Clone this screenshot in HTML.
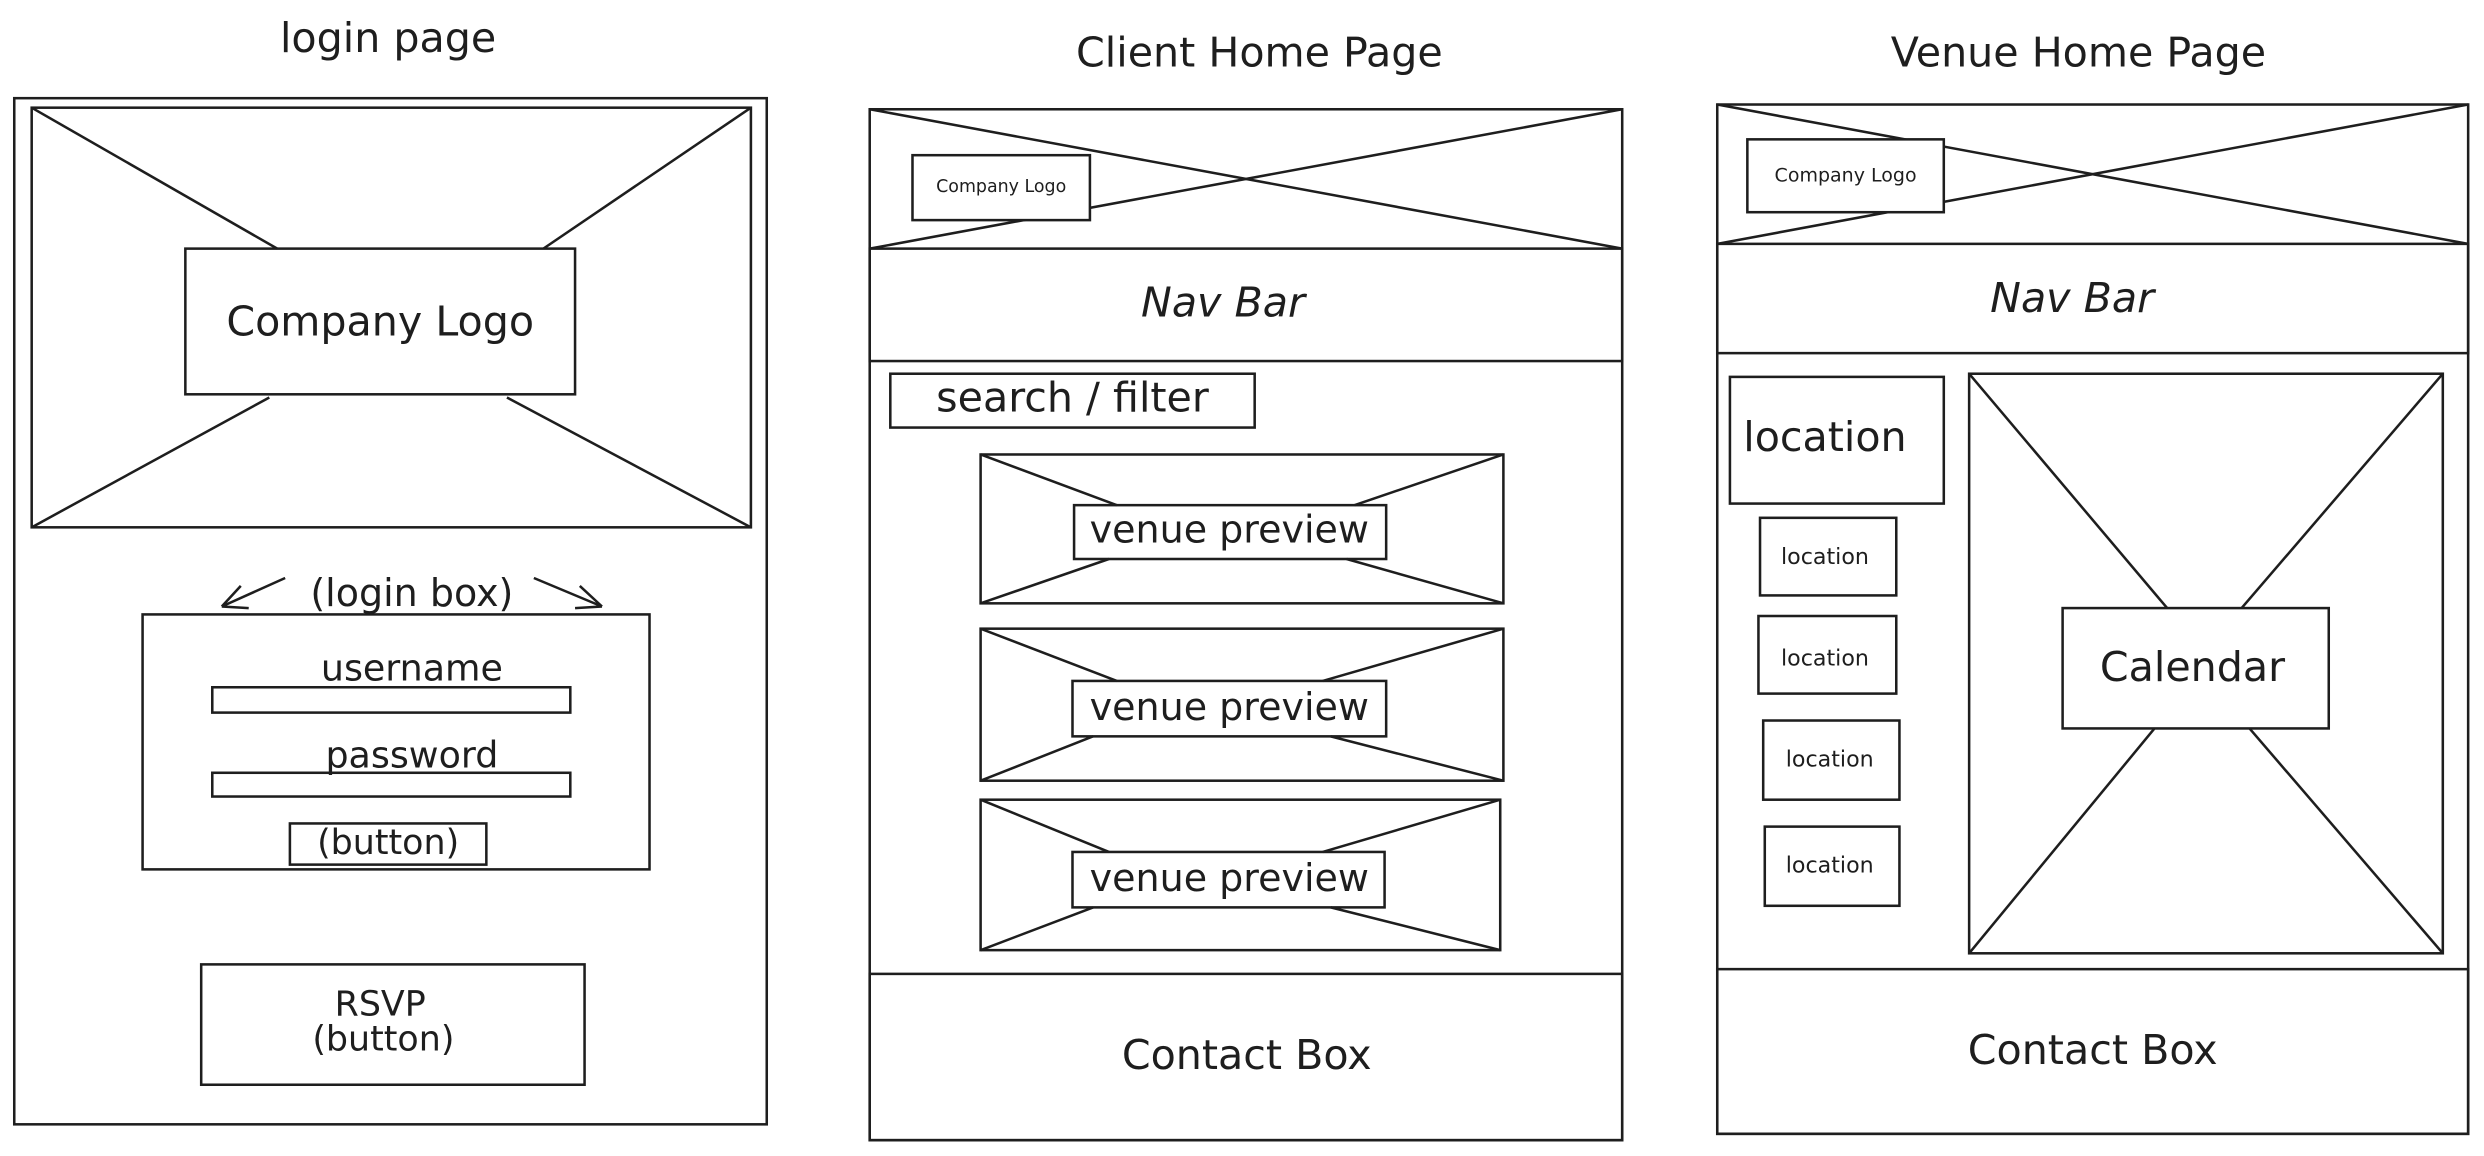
<!DOCTYPE html>
<html><head><meta charset="utf-8"><style>
html,body{margin:0;padding:0;background:#fff;}
svg{display:block;}
text{font-family:"DejaVu Sans","Liberation Sans",sans-serif;fill:#1e1e1e;text-anchor:middle;dominant-baseline:middle;}
rect,line,path{stroke:#1e1e1e;stroke-width:1.6;fill:none;}
</style></head><body>
<svg width="2484" height="1156" viewBox="0 0 1568 730" preserveAspectRatio="none" xmlns="http://www.w3.org/2000/svg">
<!-- LOGIN -->
<text x="245" y="26" font-size="26">login page</text>
<rect x="9" y="62" width="475" height="648"/>
<rect x="20" y="68" width="454" height="265"/>
<line x1="20" y1="68" x2="175" y2="157"/><line x1="474" y1="68" x2="343" y2="157"/>
<line x1="20" y1="333" x2="170" y2="251"/><line x1="474" y1="333" x2="320" y2="251"/>
<rect x="117" y="157" width="246" height="92"/>
<text x="240" y="205" font-size="26">Company Logo</text>
<text x="260" y="376" font-size="24">(login box)</text>
<path d="M180 365 L140 383 M140 383 L152 370 M140 383 L157 384"/>
<path d="M337 365 L380 383 M380 383 L366 370 M380 383 L363 384"/>
<rect x="90" y="388" width="320" height="161"/>
<text x="260" y="423" font-size="23">username</text>
<rect x="134" y="434" width="226" height="16"/>
<text x="260" y="478" font-size="23">password</text>
<rect x="134" y="488" width="226" height="15"/>
<rect x="183" y="520" width="124" height="26"/>
<text x="245" y="533" font-size="22">(button)</text>
<rect x="127" y="609" width="242" height="76"/>
<text x="240" y="635" font-size="22">RSVP</text>
<text x="242" y="657" font-size="22">(button)</text>
<!-- CLIENT -->
<text x="795" y="35" font-size="26">Client Home Page</text>
<rect x="549" y="69" width="475" height="651"/>
<line x1="549" y1="69" x2="1024" y2="157"/><line x1="1024" y1="69" x2="549" y2="157"/>
<rect x="576" y="98" width="112" height="41" fill="#fff" style="fill:#fff"/>
<text x="632" y="118" font-size="11">Company Logo</text>
<rect x="549" y="157" width="475" height="71"/>
<text x="772" y="193" font-size="26" font-style="italic">Nav Bar</text>
<rect x="562" y="236" width="230" height="34"/>
<text x="677" y="253" font-size="26">search / filter</text>
<g>
<rect x="619" y="287" width="330" height="94"/>
<line x1="619" y1="287" x2="705" y2="319"/><line x1="949" y1="287" x2="855" y2="319"/>
<line x1="619" y1="381" x2="700" y2="353"/><line x1="949" y1="381" x2="850" y2="353"/>
<rect x="678" y="319" width="197" height="34"/>
<text x="776" y="336" font-size="24">venue preview</text>
</g>
<g>
<rect x="619" y="397" width="330" height="96"/>
<line x1="619" y1="397" x2="705" y2="430"/><line x1="949" y1="397" x2="835" y2="430"/>
<line x1="619" y1="493" x2="690" y2="465"/><line x1="949" y1="493" x2="840" y2="465"/>
<rect x="677" y="430" width="198" height="35"/>
<text x="776" y="448" font-size="24">venue preview</text>
</g>
<g>
<rect x="619" y="505" width="328" height="95"/>
<line x1="619" y1="505" x2="700" y2="538"/><line x1="947" y1="505" x2="835" y2="538"/>
<line x1="619" y1="600" x2="690" y2="573"/><line x1="947" y1="600" x2="840" y2="573"/>
<rect x="677" y="538" width="197" height="35"/>
<text x="776" y="556" font-size="24">venue preview</text>
</g>
<rect x="549" y="615" width="475" height="105"/>
<text x="787" y="668" font-size="26">Contact Box</text>
<!-- VENUE -->
<text x="1312" y="35" font-size="26">Venue Home Page</text>
<rect x="1084" y="66" width="474" height="650"/>
<line x1="1084" y1="66" x2="1558" y2="154"/><line x1="1558" y1="66" x2="1084" y2="154"/>
<rect x="1103" y="88" width="124" height="46" style="fill:#fff"/>
<text x="1165" y="111" font-size="12">Company Logo</text>
<rect x="1084" y="154" width="474" height="69"/>
<text x="1308" y="190" font-size="26" font-style="italic">Nav Bar</text>
<rect x="1092" y="238" width="135" height="80"/>
<text x="1152" y="278" font-size="26">location</text>
<rect x="1111" y="327" width="86" height="49"/><text x="1152" y="352" font-size="14">location</text>
<rect x="1110" y="389" width="87" height="49"/><text x="1152" y="416" font-size="14">location</text>
<rect x="1113" y="455" width="86" height="50"/><text x="1155" y="480" font-size="14">location</text>
<rect x="1114" y="522" width="85" height="50"/><text x="1155" y="547" font-size="14">location</text>
<rect x="1243" y="236" width="299" height="366"/>
<line x1="1243" y1="236" x2="1368" y2="384"/><line x1="1542" y1="236" x2="1415" y2="384"/>
<line x1="1243" y1="602" x2="1360" y2="460"/><line x1="1542" y1="602" x2="1420" y2="460"/>
<rect x="1302" y="384" width="168" height="76"/>
<text x="1384" y="423" font-size="26">Calendar</text>
<rect x="1084" y="612" width="474" height="104"/>
<text x="1321" y="665" font-size="26">Contact Box</text>
</svg>
</body></html>
